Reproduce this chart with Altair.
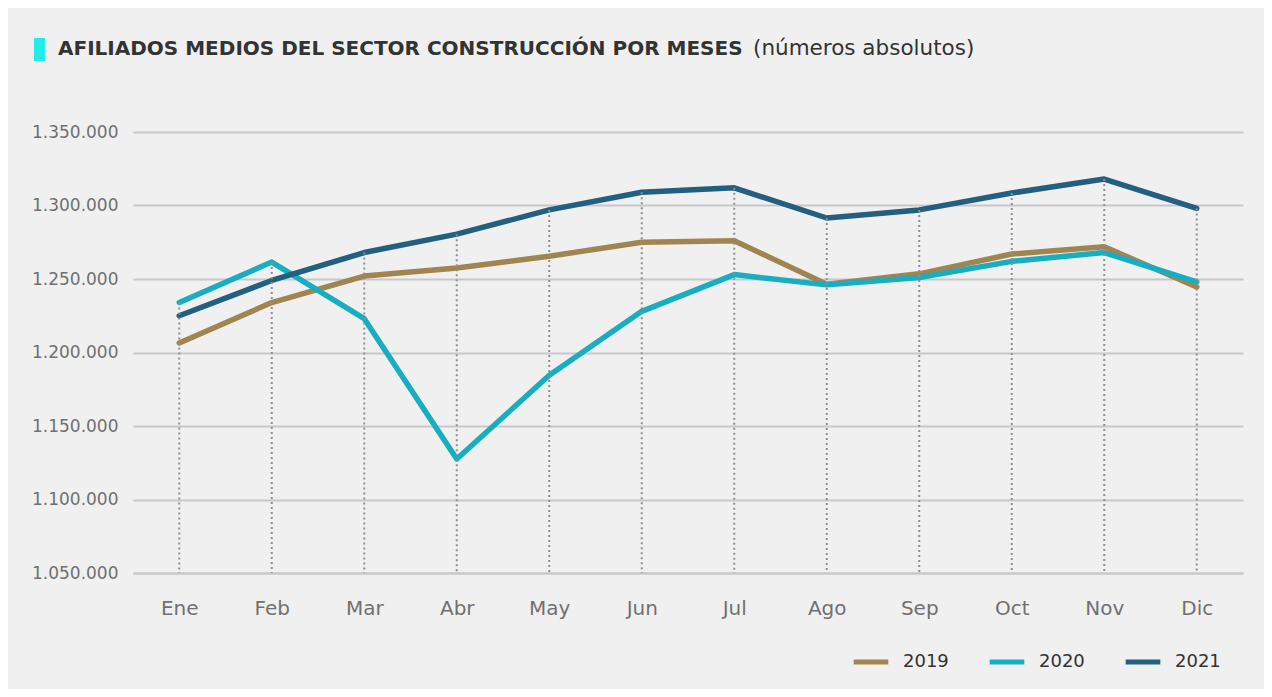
import altair as alt
import pandas as pd

months = ["Ene", "Feb", "Mar", "Abr", "May", "Jun", "Jul", "Ago", "Sep", "Oct", "Nov", "Dic"]
y2019 = [1206500, 1234000, 1252000, 1257500, 1265500, 1275000, 1276000, 1246500, 1253500, 1267000, 1272000, 1244500]
y2020 = [1234000, 1261500, 1223000, 1127500, 1184500, 1228000, 1253000, 1246000, 1251000, 1262000, 1268000, 1248000]
y2021 = [1225000, 1249000, 1268000, 1280500, 1297000, 1309000, 1312000, 1291500, 1297000, 1308500, 1318000, 1298000]
years = ["2019", "2020", "2021"]
colors = ["#a08550", "#17afc0", "#235f7e"]
y_ticks = [1050000, 1100000, 1150000, 1200000, 1250000, 1300000, 1350000]

rows = []
for yr, vals in zip(years, [y2019, y2020, y2021]):
    for m, v in zip(months, vals):
        rows.append({"mes": m, "anio": yr, "valor": v})
df = pd.DataFrame(rows)

rule_df = pd.DataFrame({
    "mes": months,
    "top": [max(a, b, c) for a, b, c in zip(y2019, y2020, y2021)],
    "base": [y_ticks[0]] * len(months),
})

FONT = "DejaVu Sans"
W, H = 1110, 441
xscale = alt.Scale(type="point", domain=months, padding=0.5)
xenc = alt.X("mes:N", sort=months, scale=xscale,
             axis=alt.Axis(title=None, labelAngle=0, labelFontSize=20, labelColor="#707070",
                           labelPadding=25, ticks=False, domain=True, domainColor="#c8c8cc",
                           domainWidth=2, grid=False, labelFont=FONT))
yscale = alt.Scale(domain=[1050000, 1350000], nice=False, zero=False)

lines = alt.Chart(df).mark_line(strokeWidth=5.5, strokeCap="round", strokeJoin="round").encode(
    x=xenc,
    y=alt.Y("valor:Q", scale=yscale,
            axis=alt.Axis(title=None, values=y_ticks, format=",d", labelFontSize=17,
                          labelColor="#707070", labelPadding=15, ticks=False, domain=False,
                          gridColor="#c8c8cc", gridWidth=2, labelFont=FONT)),
    color=alt.Color("anio:N", scale=alt.Scale(domain=years, range=colors),
                    legend=alt.Legend(title=None, orient="none", legendX=718, legendY=510,
                                      direction="horizontal", symbolType="stroke",
                                      symbolStrokeWidth=5, symbolSize=1200, labelFontSize=18,
                                      labelColor="#333333", columnPadding=30, labelOffset=12,
                                      labelFont=FONT)),
)

rules = alt.Chart(rule_df).mark_rule(color="#8f8f93", strokeWidth=2, strokeDash=[2, 3]).encode(
    x=alt.X("mes:N", sort=months, scale=xscale),
    y=alt.Y("top:Q", scale=yscale),
    y2="base:Q",
)

title_box = alt.Chart(pd.DataFrame({"a": [0]})).mark_rect(color="#22ecec").encode(
    x=alt.value(-99), x2=alt.value(-88), y=alt.value(-94), y2=alt.value(-71)
)
title_bold = alt.Chart(pd.DataFrame({"t": ["AFILIADOS MEDIOS DEL SECTOR CONSTRUCCIÓN POR MESES"]})).mark_text(
    align="left", baseline="middle", fontSize=20, fontWeight="bold", color="#333333", font=FONT
).encode(x=alt.value(-75), y=alt.value(-83), text="t:N")
title_norm = alt.Chart(pd.DataFrame({"t": ["(números absolutos)"]})).mark_text(
    align="left", baseline="middle", fontSize=21.5, color="#333333", font=FONT
).encode(x=alt.value(620), y=alt.value(-83), text="t:N")

chart = alt.layer(lines, rules, title_box, title_bold, title_norm).properties(
    width=W, height=H,
    autosize=alt.AutoSizeParams(type="none"),
    padding={"left": 125, "top": 124, "right": 21, "bottom": 116},
    background="#f0f0f1",
).configure_view(stroke=None)

chart.save("out.html", embed_options={
    "renderer": "svg", "actions": False,
    "formatLocale": {"decimal": ",", "thousands": ".", "grouping": [3], "currency": ["", " €"]},
})
